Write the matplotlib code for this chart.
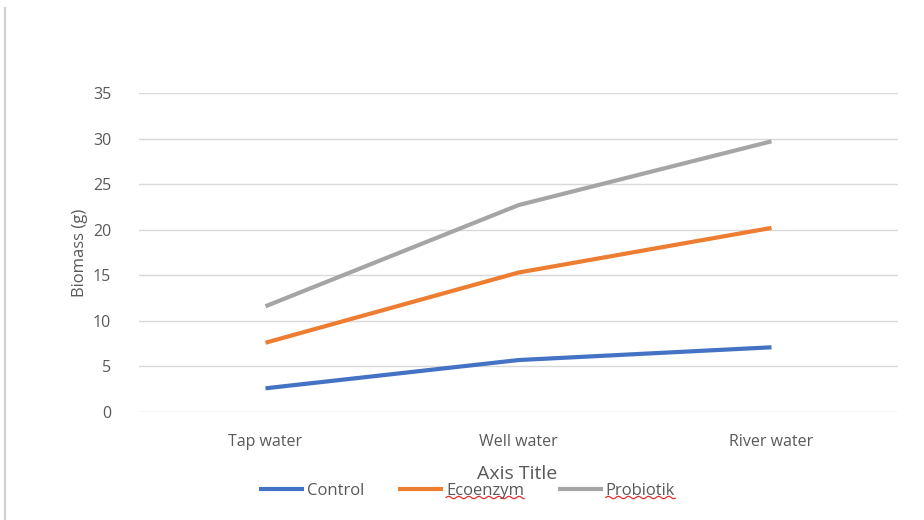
import numpy as np
import matplotlib
matplotlib.use('Agg')
import matplotlib.pyplot as plt
from matplotlib.lines import Line2D

categories = ['Tap water', 'Well water', 'River water']
control = [2.6, 5.7, 7.1]
ecoenzym = [7.6, 15.3, 20.2]
probiotik = [11.6, 22.7, 29.7]
series_names = ['Control', 'Ecoenzym', 'Probiotik']
colors = ['#4472c4', '#ed7d31', '#a5a5a5']
yticks = [0, 5, 10, 15, 20, 25, 30, 35]

plt.rcParams['font.family'] = ['Open Sans', 'DejaVu Sans']
txt = '#595959'

fig = plt.figure(figsize=(9.24, 5.2), dpi=100)
ax = fig.add_axes([139/924, 1 - 412/520, 759/924, 319/520])

x = np.arange(len(categories))
for vals, name, c in zip([control, ecoenzym, probiotik], series_names, colors):
    ax.plot(x, vals, color=c, lw=3, label=name, solid_capstyle='butt')

ax.set_xlim(-0.5, 2.5)
ax.set_ylim(0, 35)
ax.set_yticks(yticks)
ax.set_xticks(x)
ax.set_xticklabels(categories, fontsize=12.5)
ax.grid(axis='y', color='#d9d9d9', lw=1)
ax.set_axisbelow(True)
for s in ax.spines.values():
    s.set_visible(False)
ax.tick_params(length=0, colors=txt, labelsize=11.5)
ax.tick_params(axis='x', pad=16)
ax.tick_params(axis='y', pad=20)
ax.set_ylabel('Biomass (g)', color=txt, fontsize=12, va='center')
ax.yaxis.set_label_coords((80 - 139) / 759, 0.5)
ax.set_xlabel('Axis Title', color=txt, fontsize=14, va='center')
ax.xaxis.set_label_coords(0.498, (412 - 474) / 319)

leg = fig.legend(loc='center', bbox_to_anchor=(467/924, 1 - 491/520), ncol=3,
                 frameon=False, fontsize=12, handlelength=2.7, handletextpad=0.2,
                 columnspacing=2.0, borderaxespad=0, borderpad=0)
for t in leg.get_texts():
    t.set_color(txt)

# left border line of the chart area
fig.add_artist(Line2D([5/924, 5/924], [0, 1 - 8/520], color='#d0d0d0', lw=1.5))

# spell-check squiggles under two legend entries
fig.canvas.draw()
r = fig.canvas.get_renderer()
for t in leg.get_texts()[1:]:
    bb = t.get_window_extent(r)
    xs = np.linspace(bb.x0, bb.x1, 60)
    ys = bb.y0 + 1.5 + 1.2 * np.sin((xs - bb.x0) / 1.6)
    fig.add_artist(Line2D(xs / 924, ys / 520, color='#e03030', lw=0.9))

fig.savefig('out.png', dpi=100)
